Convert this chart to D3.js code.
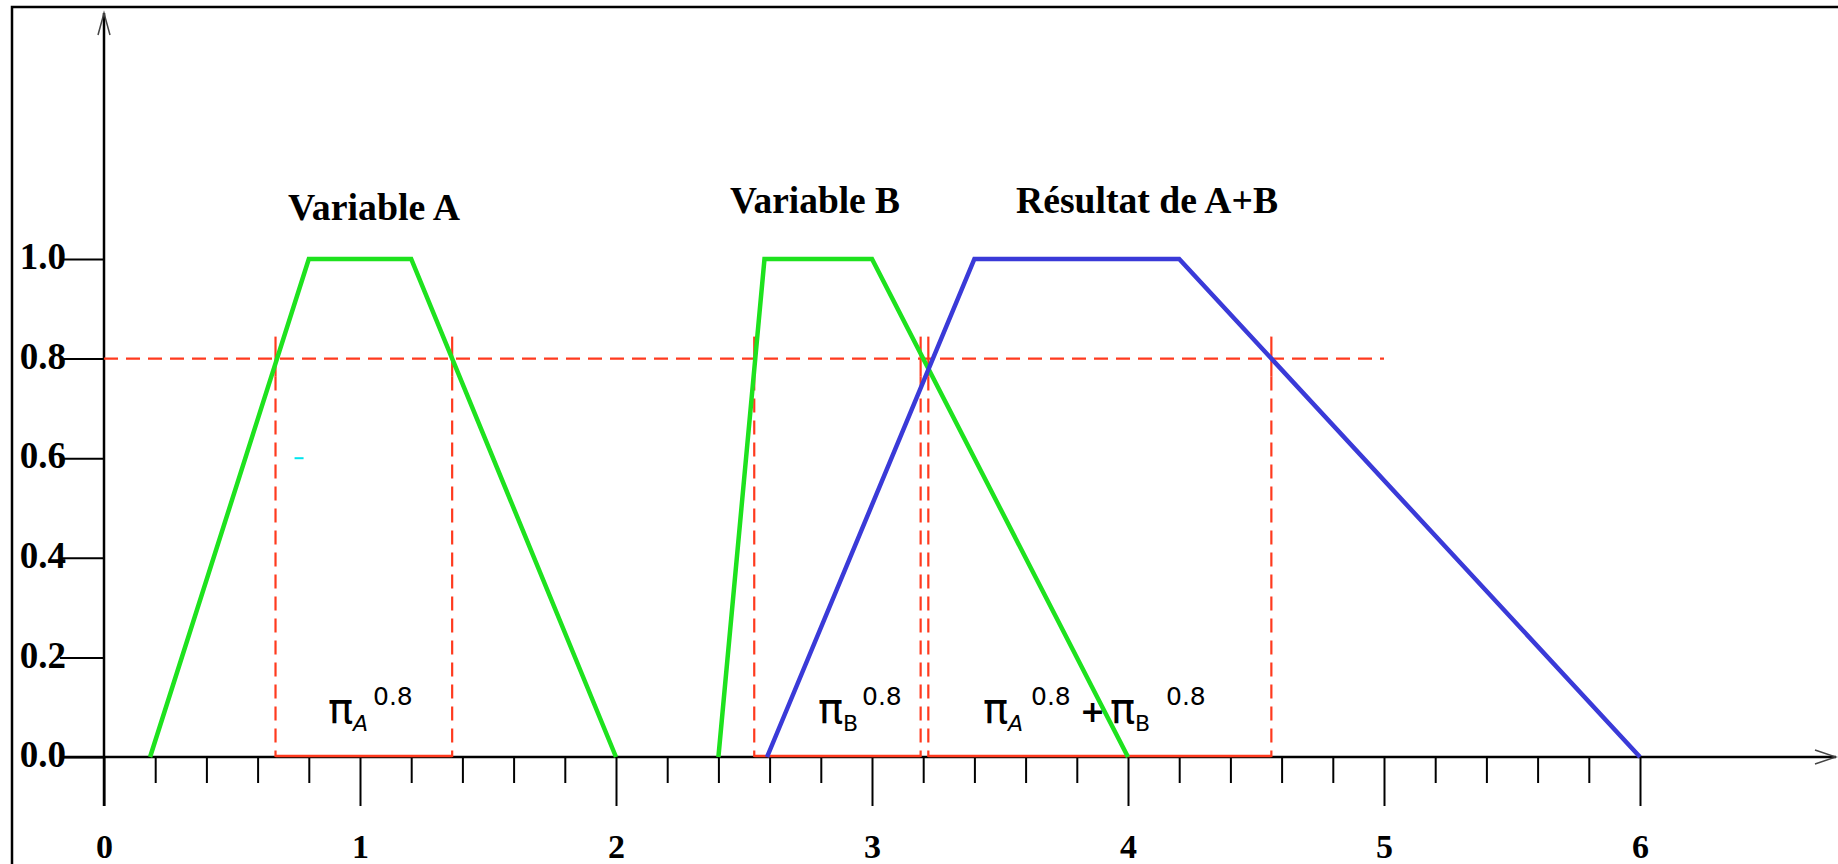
<!DOCTYPE html>
<html>
<head>
<meta charset="utf-8">
<script src="https://cdn.jsdelivr.net/npm/d3@7"></script>
<style>
  html, body { margin: 0; padding: 0; background: #fff; }
  svg { display: block; }
</style>
</head>
<body>
<svg id="chart" width="1838" height="864"></svg>
<script>
// ---- values ----
const xTickValues = [0, 1, 2, 3, 4, 5, 6];
const xTickLabels = ["0", "1", "2", "3", "4", "5", "6"];
const yTickValues = [0, 0.2, 0.4, 0.6, 0.8, 1.0];
const yTickLabels = ["0.0", "0.2", "0.4", "0.6", "0.8", "1.0"];

// trapezoidal fuzzy numbers : [x, membership]
const variableA = [[0.18, 0], [0.8, 1], [1.2, 1], [2.0, 0]];
const variableB = [[2.4, 0], [2.58, 1], [3.0, 1], [4.0, 0]];
const resultAB  = [[2.59, 0], [3.4, 1], [4.2, 1], [6.0, 0]];

// alpha cut at 0.8
const alpha = 0.8;
const alphaLineEnd = 5;
const cutA  = [0.67, 1.36];
const cutB  = [2.54, 3.19];
const cutAB = [3.22, 4.56];

const titles = ["Variable A", "Variable B", "Résultat de A+B"];
const cyanMark = [0.76, 0.6];

// ---- layout ----
const C = {
    GREEN: "#1ee21e",
    BLUE: "#3a3ad8",
    RED: "#ff3a1e",
    SERIF: "'Liberation Serif', 'DejaVu Serif', serif",
    SANS: "'DejaVu Sans', sans-serif",
    TS: (x, y) => `translate(${[x, y]})`
};

const svg = d3.select("#chart");

const x = d3.scaleLinear().domain([0, 6]).range([104, 1640]);
const y = d3.scaleLinear().domain([0, 1]).range([757, 259]);

// outer frame (cut by the picture on the right and bottom)
svg.append("rect")
    .attr("x", 12).attr("y", 7)
    .attr("width", 1900).attr("height", 1000)
    .attr("fill", "none")
    .attr("stroke", "#000")
    .attr("stroke-width", 2.5);

// minor ticks every 0.2
const minorTicks = x.ticks(30).filter(v => Math.abs(v - Math.round(v)) > 1e-6);
svg.append("g")
    .attr("transform", C.TS(0, y(0)))
    .call(d3.axisBottom(x).tickValues(minorTicks).tickSize(26).tickFormat(""))
    .call(g => g.select(".domain").remove())
    .call(g => g.selectAll("line").attr("stroke-width", 2));

// major ticks + labels
svg.append("g")
    .attr("transform", C.TS(0, y(0)))
    .call(d3.axisBottom(x).tickValues(xTickValues).tickSize(49).tickPadding(28)
        .tickFormat((d, i) => xTickLabels[i]))
    .call(g => g.select(".domain").remove())
    .call(g => g.selectAll("line").attr("stroke-width", 2))
    .call(g => g.selectAll("text")
        .attr("font-family", C.SERIF)
        .attr("font-weight", "bold")
        .attr("font-size", 34)
        .attr("fill", "#000"));

// y axis ticks + labels
svg.append("g")
    .attr("transform", C.TS(x(0), 0))
    .call(d3.axisLeft(y).tickValues(yTickValues).tickSize(44).tickPadding(-6)
        .tickFormat((d, i) => yTickLabels[i]))
    .call(g => g.select(".domain").remove())
    .call(g => g.selectAll("line").attr("stroke-width", 2))
    .call(g => g.selectAll("text")
        .attr("dy", "0.26em")
        .attr("font-family", C.SERIF)
        .attr("font-weight", "bold")
        .attr("font-size", 37)
        .attr("fill", "#000"));

// main axis lines with open arrow heads
const axes = svg.append("g").attr("stroke", "#000").attr("fill", "none");
axes.append("line")
    .attr("x1", 60).attr("x2", 1836)
    .attr("y1", y(0)).attr("y2", y(0))
    .attr("stroke-width", 2.5);
axes.append("line")
    .attr("x1", x(0)).attr("x2", x(0))
    .attr("y1", y(0) + 49).attr("y2", 13)
    .attr("stroke-width", 2.5);
axes.append("path")
    .attr("d", `M${x(0) - 6},35 L${x(0)},13 L${x(0) + 6},35`)
    .attr("stroke", "#444").attr("stroke-width", 1.5);
axes.append("path")
    .attr("d", `M1815,${y(0) - 7} L1836,${y(0)} L1815,${y(0) + 7}`)
    .attr("stroke", "#444").attr("stroke-width", 1.5);

// red parts of the alpha cut
const red = svg.append("g").attr("stroke", C.RED).attr("fill", "none");

red.append("line")
    .attr("x1", x(0)).attr("x2", x(alphaLineEnd))
    .attr("y1", y(alpha)).attr("y2", y(alpha))
    .attr("stroke-width", 2.2)
    .attr("stroke-dasharray", "14 8");

[cutA, cutB, cutAB].forEach(cut => {
    // interval on the x axis
    red.append("line")
        .attr("x1", x(cut[0])).attr("x2", x(cut[1]))
        .attr("y1", y(0) - 1).attr("y2", y(0) - 1)
        .attr("stroke-width", 2.5);
    cut.forEach(v => {
        red.append("line")
            .attr("x1", x(v)).attr("x2", x(v))
            .attr("y1", y(alpha) - 22).attr("y2", y(alpha) + 18)
            .attr("stroke-width", 2.2);
        red.append("line")
            .attr("x1", x(v)).attr("x2", x(v))
            .attr("y1", y(alpha) + 18).attr("y2", y(0))
            .attr("stroke-width", 2.2)
            .attr("stroke-dasharray", "14 8");
    });
});

// membership functions
const line = d3.line().x(d => x(d[0])).y(d => y(d[1]));
[[variableA, C.GREEN], [variableB, C.GREEN], [resultAB, C.BLUE]].forEach(([pts, col]) => {
    svg.append("path")
        .datum(pts)
        .attr("d", line)
        .attr("fill", "none")
        .attr("stroke", col)
        .attr("stroke-width", 4.5)
        .attr("stroke-linejoin", "miter");
});

// stray cyan mark
svg.append("line")
    .attr("x1", x(cyanMark[0]) - 4).attr("x2", x(cyanMark[0]) + 5)
    .attr("y1", y(cyanMark[1])).attr("y2", y(cyanMark[1]))
    .attr("stroke", "#00e5ee").attr("stroke-width", 2);

// titles
const titlePos = [[288, 220, 172], [730, 213, 170], [1016, 213, 262]];
svg.append("g")
    .selectAll("text")
    .data(titles)
    .join("text")
    .attr("x", (d, i) => titlePos[i][0])
    .attr("y", (d, i) => titlePos[i][1])
    .attr("textLength", (d, i) => titlePos[i][2])
    .attr("lengthAdjust", "spacingAndGlyphs")
    .attr("font-family", C.SERIF)
    .attr("font-weight", "bold")
    .attr("font-size", 38)
    .text(d => d);

// pi labels  (pi, sub, sup)
function piLabel(px, sub, italic, supDx) {
    const g = svg.append("g").attr("fill", "#000").attr("font-family", C.SANS);
    g.append("text").attr("x", px).attr("y", 723)
        .attr("font-size", 42).text("π");
    g.append("text").attr("x", px + 25).attr("y", 731)
        .attr("font-size", 22)
        .attr("font-style", italic ? "italic" : "normal")
        .text(sub);
    g.append("text").attr("x", px + supDx).attr("y", 705)
        .attr("font-size", 25).text(String(alpha));
}
piLabel(328, "A", true, 45);
piLabel(818, "B", false, 44);
piLabel(983, "A", true, 48);
svg.append("text")
    .attr("x", 1080).attr("y", 722)
    .attr("font-family", C.SANS)
    .attr("font-weight", "bold")
    .attr("font-size", 30)
    .text("+");
piLabel(1110, "B", false, 56);
</script>
</body>
</html>
